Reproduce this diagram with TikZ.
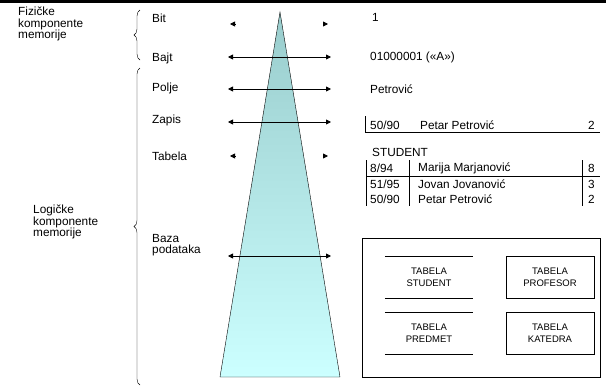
\documentclass[tikz,border=0pt]{standalone}
\usepackage{fontspec}
\setmainfont{Liberation Sans}
\usetikzlibrary{arrows.meta, positioning, decorations.pathreplacing}
\definecolor{piraTop}{HTML}{99CCCC}
\definecolor{piraBot}{HTML}{CCFFFF}
\tikzset{
  lbl/.style={anchor=west, inner sep=0pt, align=left,
              font=\fontsize{11.8}{11.6}\selectfont},
  arrowLR/.style={{Triangle[length=5pt,width=5pt]}-{Triangle[length=5pt,width=5pt]}, thick},
  tipOnly/.style={-{Triangle[length=5pt,width=5pt]}, thick},
  braceL/.style={decorate, decoration={brace, amplitude=6pt}, thin},
  tabBox/.style={minimum width=88pt, minimum height=42pt, align=center,
                 inner sep=0pt, font=\fontsize{9.5}{12}\selectfont},
}

\begin{document}
\begin{tikzpicture}[x=1pt, y=-1pt]
  \useasboundingbox (0,0) rectangle (606,386);
  \draw[line width=3pt] (0,1.5) -- (606,1.5);

  % piramida
  \coordinate (apex) at (280,12);
  \coordinate (baseL) at (220,377);
  \coordinate (baseR) at (340,377);
  \shade[top color=piraTop, bottom color=piraBot, draw=black, thin]
    (apex) -- (baseR) -- (baseL) -- cycle;

  % levo: grupe i nivoi
  \node[lbl] (fiz) at (18,24) {Fizičke\\komponente\\memorije};
  \node[lbl] (log) at (33,222) {Logičke\\komponente\\memorije};
  \draw[braceL] (140,60) -- (140,10);
  \draw[braceL] (140,385) -- (140,68);
  \node[lbl] (bit) at (152,18) {Bit};
  \node[lbl] (bajt) at (152,58) {Bajt};
  \node[lbl] (polje) at (152,88) {Polje};
  \node[lbl] (zapis) at (152,120) {Zapis};
  \node[lbl] (tabela) at (152,156) {Tabela};
  \node[lbl] (baza) at (152,245) {Baza\\podataka};

  % strelice
  \coordinate (bitL) at (230,24);    \coordinate (bitR) at (328,24);
  \coordinate (bajtL) at (228,57);   \coordinate (bajtR) at (331,57);
  \coordinate (poljeL) at (228,89);  \coordinate (poljeR) at (331,89);
  \coordinate (zapisL) at (228,122); \coordinate (zapisR) at (331,122);
  \coordinate (tabL) at (230,156);   \coordinate (tabR) at (328,156);
  \coordinate (bazaL) at (228,256);  \coordinate (bazaR) at (331,256);
  \draw[tipOnly] ([xshift=5pt]bitL) -- (bitL);
  \draw[tipOnly] ([xshift=-5pt]bitR) -- (bitR);
  \draw[arrowLR] (bajtL) -- (bajtR);
  \draw[arrowLR] (poljeL) -- (poljeR);
  \draw[arrowLR] (zapisL) -- (zapisR);
  \draw[tipOnly] ([xshift=5pt]tabL) -- (tabL);
  \draw[tipOnly] ([xshift=-5pt]tabR) -- (tabR);
  \draw[arrowLR] (bazaL) -- (bazaR);

  % desno: primeri
  \node[lbl] (bitVal) at (372,17) {1};
  \node[lbl] (bajtVal) at (370,57) {01000001 («A»)};
  \node[lbl] (poljeVal) at (370,89) {Petrović};
  \node[lbl] (zapId) at (370,125) {50/90};
  \node[lbl] (zapIme) at (420,125) {Petar Petrović};
  \node[lbl] (zapBr) at (588,125) {2};
  \draw (365,116) -- (365,132) -- (600,132);

  \node[lbl] (student) at (372,152) {STUDENT};
  \node[lbl] (r1id) at (370,168) {8/94};
  \node[lbl] (r1ime) at (418,168) {Marija Marjanović};
  \node[lbl] (r1br) at (588,168) {8};
  \node[lbl] (r2id) at (370,184) {51/95};
  \node[lbl] (r2ime) at (418,184) {Jovan Jovanović};
  \node[lbl] (r2br) at (588,184) {3};
  \node[lbl] (r3id) at (370,199) {50/90};
  \node[lbl] (r3ime) at (418,199) {Petar Petrović};
  \node[lbl] (r3br) at (588,199) {2};
  \draw (366,160) -- (366,206);
  \draw (409,160) -- (409,206);
  \draw (582,160) -- (582,206);
  \draw (366,176) -- (600,176);

  % baza
  \draw (362,238) rectangle (600,377);
  \node[tabBox] (tStudent) at (429,277) {TABELA\\STUDENT};
  \node[tabBox, draw] (tProfesor) at (550,277) {TABELA\\PROFESOR};
  \node[tabBox] (tPredmet) at (429,333) {TABELA\\PREDMET};
  \node[tabBox, draw] (tKatedra) at (550,333) {TABELA\\KATEDRA};
  \draw (tStudent.north west) -- (tStudent.north east)
        (tStudent.south west) -- (tStudent.south east);
  \draw (tPredmet.north west) -- (tPredmet.north east)
        (tPredmet.south west) -- (tPredmet.south east);
\end{tikzpicture}
\end{document}
